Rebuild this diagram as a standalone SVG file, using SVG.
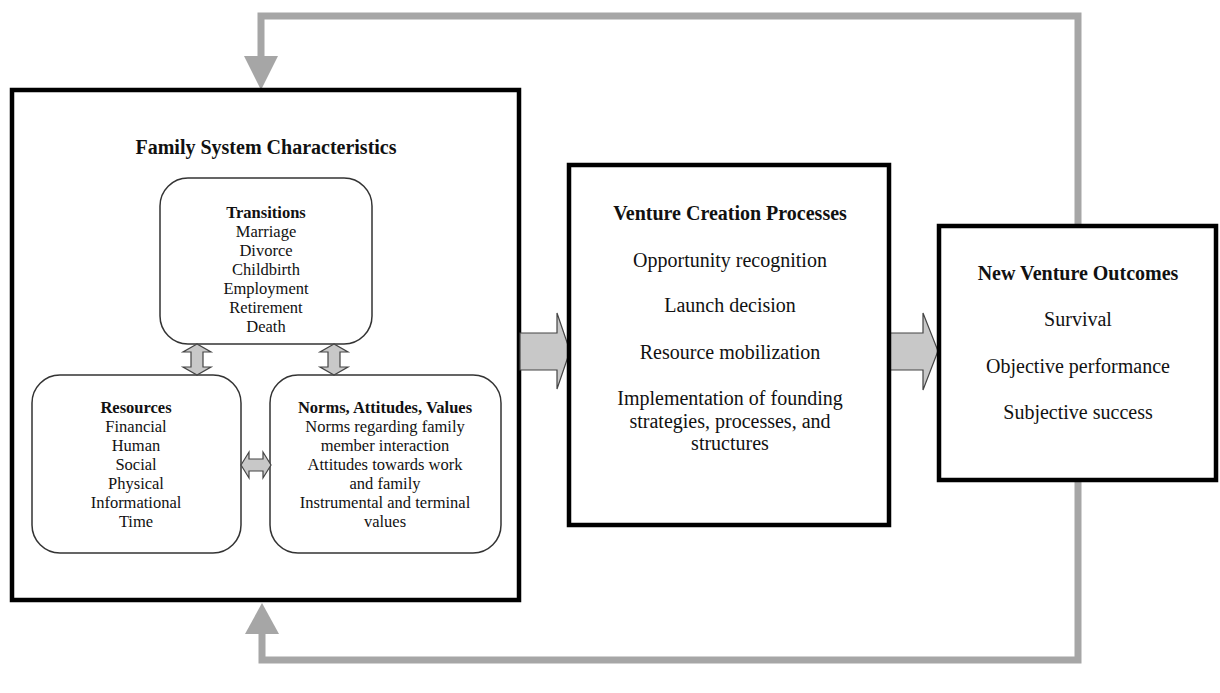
<svg xmlns="http://www.w3.org/2000/svg" width="1220" height="693" viewBox="0 0 1220 693">
<defs>
<style>
.box{fill:#fff;stroke:#000;stroke-width:4.5}
.inner{fill:#fff;stroke:#333;stroke-width:1.5}
.t{font-family:"Liberation Serif","Times New Roman",serif;fill:#111;text-anchor:middle}
.h{font-size:20px;font-weight:bold}
.b{font-size:20px}
.ih{font-size:16.5px;font-weight:bold}
.ib{font-size:16.5px}
.fb{fill:none;stroke:#a6a6a6;stroke-width:7}
.fh{fill:#a6a6a6}
.blk{fill:#c8c8c8;stroke:#444;stroke-width:1.2}
</style>
</defs>
<rect width="1220" height="693" fill="#fff"/>
<g id="connectors">
<polyline class="fb" points="1078,225 1078,16 261,16 261,60"/>
<polygon class="fh" points="244,56 278,56 261,90"/>
<polyline class="fb" points="1078,481 1078,660 262,660 262,630"/>
<polygon class="fh" points="245,634 279,634 262,603"/>
</g>
<g id="family-system">
<rect class="box" x="12" y="90" width="507" height="510"/>
<text class="t h" x="266" y="154">Family System Characteristics</text>
</g>
<g id="transitions">
<rect class="inner" x="160" y="178" width="212" height="166" rx="28"/>
<text class="t ih" x="266" y="218">Transitions</text>
<text class="t ib" x="266" y="237">Marriage</text>
<text class="t ib" x="266" y="256">Divorce</text>
<text class="t ib" x="266" y="275">Childbirth</text>
<text class="t ib" x="266" y="294">Employment</text>
<text class="t ib" x="266" y="313">Retirement</text>
<text class="t ib" x="266" y="332">Death</text>
</g>
<g id="resources">
<rect class="inner" x="32" y="375" width="209" height="178" rx="28"/>
<text class="t ih" x="136" y="413">Resources</text>
<text class="t ib" x="136" y="432">Financial</text>
<text class="t ib" x="136" y="451">Human</text>
<text class="t ib" x="136" y="470">Social</text>
<text class="t ib" x="136" y="489">Physical</text>
<text class="t ib" x="136" y="508">Informational</text>
<text class="t ib" x="136" y="527">Time</text>
</g>
<g id="norms">
<rect class="inner" x="270" y="375" width="231" height="178" rx="28"/>
<text class="t ih" x="385" y="413">Norms, Attitudes, Values</text>
<text class="t ib" x="385" y="432">Norms regarding family</text>
<text class="t ib" x="385" y="451">member interaction</text>
<text class="t ib" x="385" y="470">Attitudes towards work</text>
<text class="t ib" x="385" y="489">and family</text>
<text class="t ib" x="385" y="508">Instrumental and terminal</text>
<text class="t ib" x="385" y="527">values</text>
</g>
<g id="inner-arrows">
<polygon class="blk" points="197,344 183,352 191,352 191,367 183,367 197,375 211,367 203,367 203,352 211,352"/>
<polygon class="blk" points="334,344 320,352 328,352 328,367 320,367 334,375 348,367 340,367 340,352 348,352"/>
<polygon class="blk" points="241,465 249,452 249,459 263,459 263,452 271,465 263,478 263,471 249,471 249,478"/>
</g>
<g id="block-arrows">
<polygon class="blk" points="520,333 557,333 557,313 570,351 557,389 557,370 520,370"/>
<polygon class="blk" points="889,333 923,333 923,313 938,351 923,390 923,370 889,370"/>
</g>
<g id="venture-creation">
<rect class="box" x="569" y="165" width="320" height="360"/>
<text class="t h" x="730" y="220">Venture Creation Processes</text>
<text class="t b" x="730" y="267">Opportunity recognition</text>
<text class="t b" x="730" y="312">Launch decision</text>
<text class="t b" x="730" y="359">Resource mobilization</text>
<text class="t b" x="730" y="405">Implementation of founding</text>
<text class="t b" x="730" y="428">strategies, processes, and</text>
<text class="t b" x="730" y="450">structures</text>
</g>
<g id="outcomes">
<rect class="box" x="939" y="226" width="277" height="254"/>
<text class="t h" x="1078" y="280">New Venture Outcomes</text>
<text class="t b" x="1078" y="326">Survival</text>
<text class="t b" x="1078" y="373">Objective performance</text>
<text class="t b" x="1078" y="419">Subjective success</text>
</g>
</svg>
